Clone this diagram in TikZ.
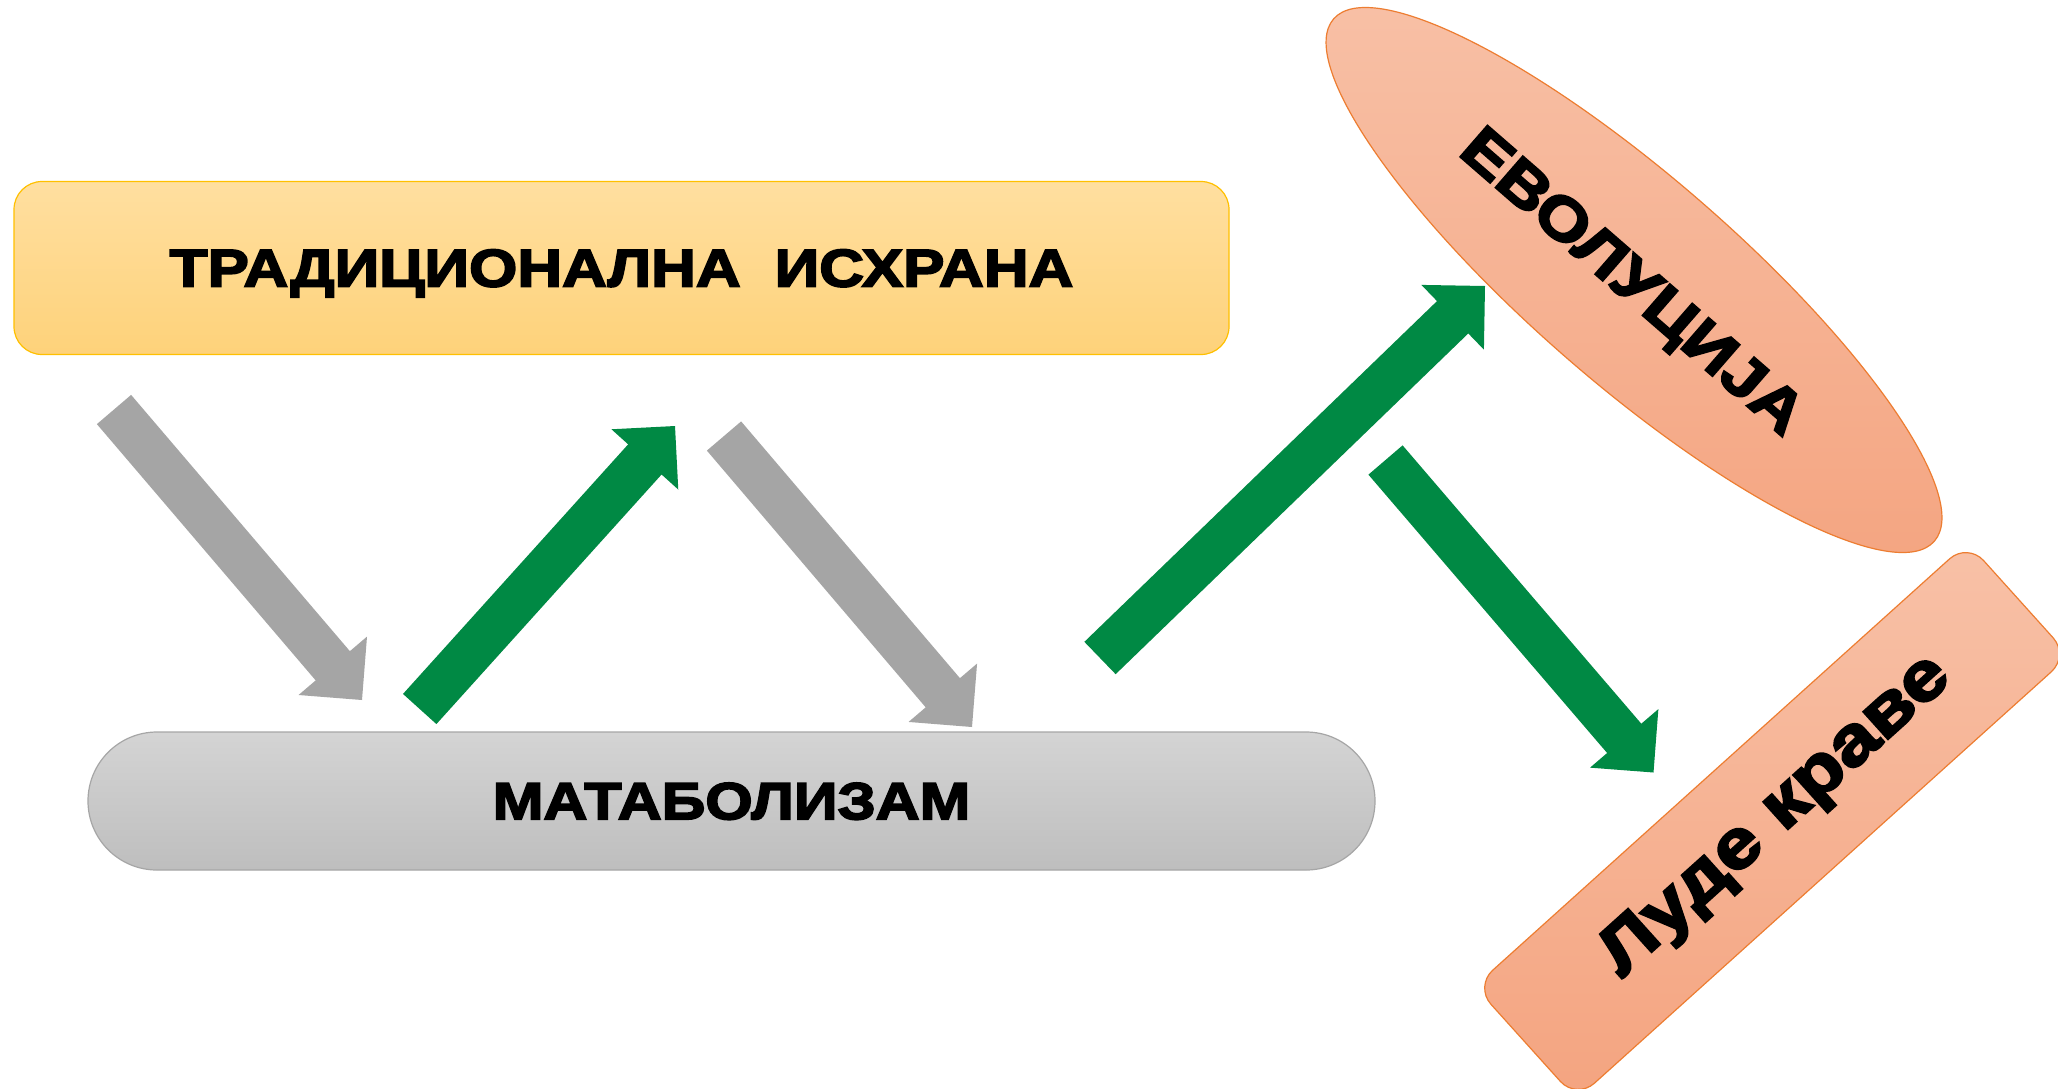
\documentclass[tikz,border=0pt]{standalone}
\usepackage{fontspec}
\newfontfamily\heavy{Liberation Sans}[BoldFeatures={FakeBold=3.5,FakeStretch=1.17}]
\usetikzlibrary{shapes.geometric,calc}
\definecolor{arrgray}{RGB}{165,165,165}
\definecolor{arrgreen}{RGB}{0,137,68}
\definecolor{ytop}{RGB}{255,223,160}
\definecolor{ybot}{RGB}{254,210,122}
\definecolor{yedge}{RGB}{255,192,0}
\definecolor{gtop}{RGB}{212,212,212}
\definecolor{gbot}{RGB}{190,190,190}
\definecolor{gedge}{RGB}{166,166,166}
\definecolor{stop}{RGB}{248,193,167}
\definecolor{sbot}{RGB}{244,164,128}
\definecolor{sedge}{RGB}{237,125,49}
% block arrow: #1 tail coordinate, #2 tip coordinate, #3 colour
\newcommand\blockarrow[3]{%
  \coordinate (ba-h) at ($(#2)!45pt!(#1)$);
  \fill[#3] ($(#1)!22.5pt!90:(#2)$) -- ($(ba-h)!22.5pt!90:(#2)$)
    -- ($(ba-h)!45pt!90:(#2)$) -- (#2) -- ($(ba-h)!45pt!-90:(#2)$)
    -- ($(ba-h)!22.5pt!-90:(#2)$) -- ($(#1)!22.5pt!-90:(#2)$) -- cycle;
}
\tikzset{
  bigtext/.style={font=\heavy\bfseries\fontsize{53}{60}\selectfont, text=black},
  rottext/.style={font=\heavy\bfseries\fontsize{60}{66}\selectfont, text=black},
  ybox/.style={rectangle, rounded corners=28pt, minimum width=1215pt, minimum height=173pt,
    top color=ytop, bottom color=ybot, draw=yedge, line width=1.2pt, inner sep=0pt,
    text depth=0pt, bigtext},
  gbox/.style={rectangle, rounded corners=69pt, minimum width=1287pt, minimum height=138pt,
    top color=gtop, bottom color=gbot, draw=gedge, line width=1.2pt, inner sep=0pt,
    text depth=0pt, bigtext},
  sshape/.style={top color=stop, bottom color=sbot, draw=sedge, line width=1.2pt, inner sep=0pt},
}
\begin{document}
\begin{tikzpicture}[x=1pt,y=-1pt]
\useasboundingbox[fill=white] (0,0) rectangle (2058,1088);

\node[ybox] (trad) at (621.5,268) {ТРАДИЦИОНАЛНА\hspace{34pt}ИСХРАНА};
\node[gbox, font=\heavy\bfseries\fontsize{52}{60}\selectfont] (meta) at (731.5,801) {МАТАБОЛИЗАМ};

\node[sshape, ellipse, minimum width=796pt, minimum height=206pt, rotate=-41,
  rottext, text depth=0pt] (evo) at (1634,280) {ЕВОЛУЦИЈА};

\node[sshape, rectangle, rounded corners=24pt, minimum width=663pt, minimum height=152pt,
  rotate=42] (mad) at (1772,821) {};
\node[rottext, font=\heavy\bfseries\fontsize{69}{72}\selectfont, rotate=42, inner sep=0pt]
  (madt) at ($(mad.center)+(42:6pt)$) {Луде краве};

% arrow end points
\coordinate (a1s) at (114,409.5);   \coordinate (a1t) at (362,700);
\coordinate (g1s) at (419.7,709);   \coordinate (g1t) at (675,426);
\coordinate (a2s) at (724,436);     \coordinate (a2t) at (972,727);
\coordinate (g2s) at (1100,658);    \coordinate (g2t) at (1485,286);
\coordinate (g3s) at (1385.5,460);  \coordinate (g3t) at (1653.5,772.5);

\blockarrow{a1s}{a1t}{arrgray}
\blockarrow{a2s}{a2t}{arrgray}
\blockarrow{g1s}{g1t}{arrgreen}
\blockarrow{g2s}{g2t}{arrgreen}
\blockarrow{g3s}{g3t}{arrgreen}
\end{tikzpicture}
\end{document}
